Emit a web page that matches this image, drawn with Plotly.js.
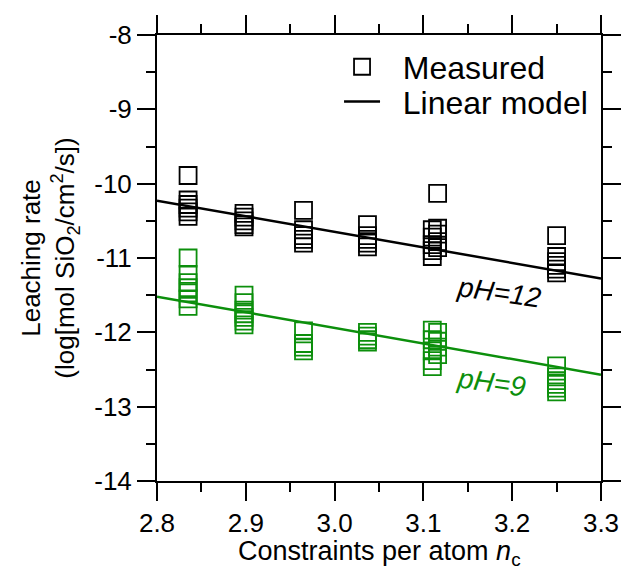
<!DOCTYPE html>
<html>
<head>
<meta charset="utf-8">
<script src="https://cdn.plot.ly/plotly-3.0.1.min.js"></script>
<style>html,body{margin:0;padding:0;background:#fff;}#chart{width:624px;height:567px;}</style>
</head>
<body>
<div id="chart"></div>
<script>
// Measured leaching rates, pH = 12
var ph12X = [2.835,2.835,2.835,2.835,2.835,2.835,
             2.898,2.898,2.898,2.898,2.898,
             2.965,2.965,2.965,2.965,2.965,
             3.037,3.037,3.037,3.037,3.037,
             3.110,3.110,3.110,3.110,3.110,
             3.116,3.116,3.116,3.116,3.116,
             3.250,3.250,3.250,3.250,3.250,3.250];
var ph12Y = [-9.89,-10.22,-10.28,-10.33,-10.38,-10.44,
             -10.40,-10.45,-10.50,-10.55,-10.58,
             -10.36,-10.62,-10.70,-10.75,-10.80,
             -10.55,-10.70,-10.75,-10.80,-10.85,
             -10.62,-10.72,-10.82,-10.90,-10.98,
             -10.13,-10.60,-10.68,-10.78,-10.86,
             -10.70,-10.98,-11.05,-11.10,-11.15,-11.20];
// Measured leaching rates, pH = 9
var ph9X = [2.835,2.835,2.835,2.835,2.835,2.835,2.835,
            2.898,2.898,2.898,2.898,2.898,2.898,2.898,
            2.965,2.965,2.965,2.965,
            3.037,3.037,3.037,3.037,
            3.110,3.110,3.110,3.110,3.110,
            3.116,3.116,3.116,3.116,
            3.250,3.250,3.250,3.250,3.250,3.250];
var ph9Y = [-11.00,-11.22,-11.33,-11.40,-11.47,-11.55,-11.65,
            -11.50,-11.60,-11.70,-11.75,-11.80,-11.85,-11.90,
            -11.98,-12.15,-12.20,-12.25,
            -12.00,-12.05,-12.10,-12.13,
            -11.97,-12.10,-12.25,-12.38,-12.46,
            -12.00,-12.12,-12.20,-12.30,
            -12.45,-12.60,-12.65,-12.70,-12.75,-12.80];
// Linear model
var modelX = [2.8, 3.3];
var model12Y = [-10.23, -11.275];
var model9Y = [-11.52, -12.57];

// Tick labels
var xTickVals = [2.8, 2.9, 3.0, 3.1, 3.2, 3.3];
var xTickText = ['2.8', '2.9', '3.0', '3.1', '3.2', '3.3'];
var yTickVals = [-14, -13, -12, -11, -10, -9, -8];
var yTickText = ['-14', '-13', '-12', '-11', '-10', '-9', '-8'];

var black = '#000000';
var green = '#0c8f0c';
var mk = function(c){ return {symbol:'square-open', size:17, color:c, line:{color:c, width:1.8}}; };

var traces = [
  {x: ph12X, y: ph12Y, mode:'markers', marker: mk(black), showlegend:false},
  {x: ph9X, y: ph9Y, mode:'markers', marker: mk(green), showlegend:false},
  {x: modelX, y: model12Y, mode:'lines', line:{color:black, width:2.5}, showlegend:false},
  {x: modelX, y: model9Y, mode:'lines', line:{color:green, width:2.5}, showlegend:false},
  {x: [null], y: [null], mode:'markers', marker: mk(black), name:'\u00a0\u00a0Measured', showlegend:true, legend:'legend'},
  {x: [null], y: [null], mode:'lines', line:{color:black, width:2.5}, name:'\u00a0\u00a0Linear model', showlegend:true, legend:'legend2'}
];

var tickFont = {family:'Liberation Sans, Arial, sans-serif', size:26, color:'#000'};
var axisCommon = {
  showline:true, linecolor:'#000', linewidth:2, mirror:'ticks',
  ticks:'outside', ticklen:18, tickwidth:2, tickcolor:'#000',
  showgrid:false, zeroline:false, tickfont: tickFont
};

var legendFont = {family:'Liberation Sans, Arial, sans-serif', size:32, color:'#000'};

var layout = {
  width:624, height:567,
  margin:{l:157, r:23, t:35, b:86},
  paper_bgcolor:'#fff', plot_bgcolor:'#fff',
  font:{family:'Liberation Sans, Arial, sans-serif', color:'#000'},
  xaxis: Object.assign({}, axisCommon, {
    range:[2.8, 3.3], tickmode:'array', tickvals:xTickVals, ticktext:xTickText,
    minor:{dtick:0.05, tick0:2.8, ticks:'outside', ticklen:9, tickwidth:2, tickcolor:'#000', showgrid:false}
  }),
  yaxis: Object.assign({}, axisCommon, {
    range:[-14, -8], tickmode:'array', tickvals:yTickVals, ticktext:yTickText,
    minor:{dtick:0.5, tick0:-14, ticks:'outside', ticklen:9, tickwidth:2, tickcolor:'#000', showgrid:false},
    title:{text:'Leaching rate<br>(log[mol SiO<sub>2</sub>/cm<sup>2</sup>/s])', font:{size:26}, standoff:12}
  }),
  legend:{x:0.41, y:0.99, xanchor:'left', yanchor:'top', bgcolor:'rgba(0,0,0,0)',
          font:legendFont, itemwidth:36},
  legend2:{x:0.41, y:0.912, xanchor:'left', yanchor:'top', bgcolor:'rgba(0,0,0,0)',
          font:legendFont, itemwidth:36},
  annotations:[
    {x:0.5, y:0, xref:'paper', yref:'paper', xanchor:'center', yanchor:'middle', yshift:-72,
     text:'Constraints per atom <i>n</i><sub>c</sub>', showarrow:false, font:{size:27, color:black}},
    {x:3.186, y:-11.46, xref:'x', yref:'y', text:'<i>pH=12</i>', showarrow:false,
     textangle:8, font:{size:28, color:black}},
    {x:3.177, y:-12.68, xref:'x', yref:'y', text:'<i>pH=9</i>', showarrow:false,
     textangle:8, font:{size:28, color:green}}
  ]
};

Plotly.newPlot('chart', traces, layout, {displayModeBar:false, staticPlot:true});
</script>
</body>
</html>
